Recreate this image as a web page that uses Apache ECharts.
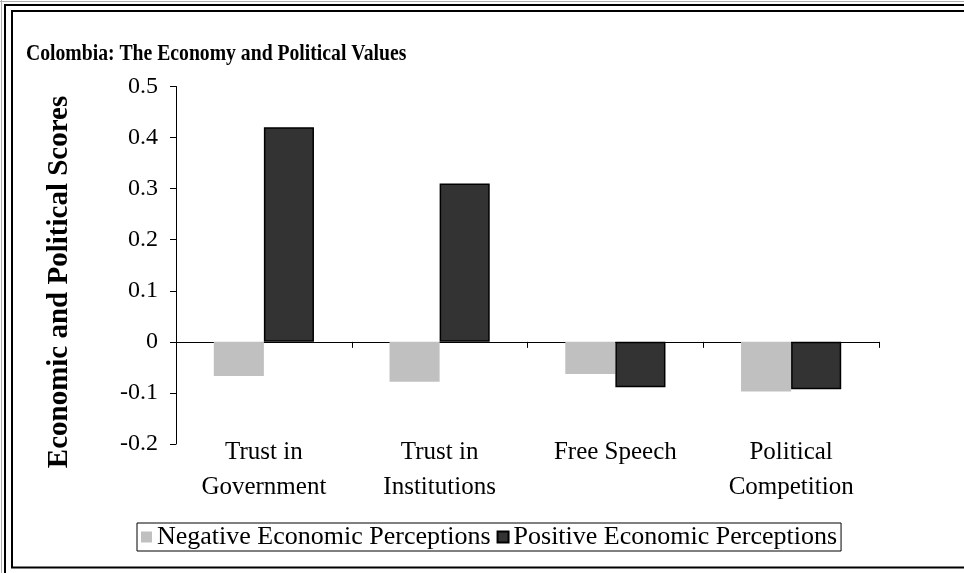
<!DOCTYPE html>
<html>
<head>
<meta charset="utf-8">
<script src="https://cdn.jsdelivr.net/npm/echarts@6/dist/echarts.min.js"></script>
<style>
html,body{margin:0;padding:0;background:#fff;}
#chart{width:964px;height:573px;}
</style>
</head>
<body>
<div id="chart"></div>
<script>
const titleText = 'Colombia: The Economy and Political Values';
const yAxisTitle = 'Economic and Political Scores';
const categories = ['Trust in\nGovernment', 'Trust in\nInstitutions', 'Free Speech', 'Political\nCompetition'];
const seriesNames = ['Negative Economic Perceptions', 'Positive Economic Perceptions'];
const negativeValues = [-0.067, -0.078, -0.063, -0.097];
const positiveValues = [0.42, 0.31, -0.089, -0.093];
const yMin = -0.2, yMax = 0.5, yStep = 0.1;

const FONT = '"Liberation Serif", "Times New Roman", serif';
const chart = echarts.init(document.getElementById('chart'), null, {renderer: 'canvas'});
chart.setOption({
  backgroundColor: '#ffffff',
  animation: false,
  textStyle: {fontFamily: FONT, color: '#000'},
  grid: {left: 176, top: 86.5, width: 703, height: 357.5, containLabel: false},
  legend: {
    left: 137, top: 523,
    padding: [1, 4, 1, 4],
    itemGap: 6,
    itemWidth: 11, itemHeight: 11,
    borderColor: '#000', borderWidth: 1,
    icon: 'rect',
    textStyle: {fontFamily: FONT, fontSize: 26, color: '#000', lineHeight: 25},
    data: seriesNames
  },
  xAxis: [
    {
      type: 'category', data: categories, position: 'bottom',
      axisLine: {show: false, onZero: false}, axisTick: {show: false},
      axisLabel: {fontFamily: FONT, fontSize: 25, color: '#000', lineHeight: 35, margin: -9, interval: 0}
    },
    {
      type: 'category', data: categories, position: 'bottom',
      axisLine: {show: true, onZero: true, lineStyle: {color: '#000', width: 1}},
      axisTick: {show: true, length: 6, inside: false, lineStyle: {color: '#000'}},
      axisLabel: {show: false}
    }
  ],
  yAxis: {
    type: 'value', min: yMin, max: yMax, interval: yStep,
    axisLine: {show: true, lineStyle: {color: '#000', width: 1}},
    axisTick: {show: true, length: 6, inside: false, lineStyle: {color: '#000'}},
    splitLine: {show: false},
    axisLabel: {fontFamily: FONT, fontSize: 24, color: '#000', margin: 18,
      formatter: v => (Math.round(v * 10) / 10).toString()}
  },
  series: [
    {
      name: seriesNames[0], type: 'bar', xAxisIndex: 0, data: negativeValues,
      barWidth: '28.5%', barGap: '0%',
      itemStyle: {color: '#c0c0c0', borderColor: '#c0c0c0', borderWidth: 0}
    },
    {
      name: seriesNames[1], type: 'bar', xAxisIndex: 0, data: positiveValues,
      barWidth: '28.5%', barGap: '0%',
      itemStyle: {color: '#333333', borderColor: '#000', borderWidth: 1.5}
    }
  ],
  graphic: [
    {type: 'rect', silent: true, shape: {x: 0, y: 1, width: 964, height: 1}, style: {fill: '#b0b0b0'}},
    {type: 'rect', silent: true, shape: {x: 1, y: 0, width: 1, height: 573}, style: {fill: '#b0b0b0'}},
    {type: 'polyline', silent: true, shape: {points: [[5, 573], [5, 5], [964, 5]]}, style: {stroke: '#000', lineWidth: 2, fill: null}},
    {type: 'polyline', silent: true, shape: {points: [[964, 567.5], [12, 567.5], [12, 11], [964, 11]]}, style: {stroke: '#000', lineWidth: 2, fill: null}},
    {type: 'text', silent: true, x: 26, y: 54, scaleX: 0.82,
      style: {text: titleText, font: 'bold 24px ' + FONT, fill: '#000', align: 'left', verticalAlign: 'middle'}},
    {type: 'text', silent: true, x: 60, y: 282, rotation: Math.PI / 2,
      style: {text: yAxisTitle, font: 'bold 29px ' + FONT, fill: '#000', align: 'center', verticalAlign: 'middle'}}
  ]
});
</script>
</body>
</html>
